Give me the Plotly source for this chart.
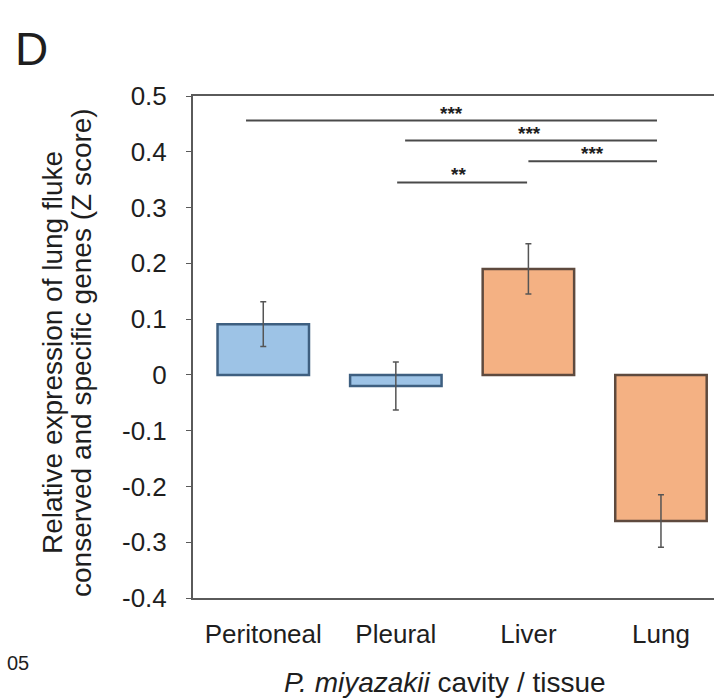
import plotly.graph_objects as go

categories = ["Peritoneal", "Pleural", "Liver", "Lung"]
values = [0.091, -0.020, 0.190, -0.262]
errors = [0.040, 0.043, 0.045, 0.047]
fill_colors = ["#9DC3E6", "#9DC3E6", "#F4B183", "#F4B183"]
line_colors = ["#3E5F80", "#3E5F80", "#5E4A3E", "#5E4A3E"]

# significance comparisons: (x start, x end, y level, label, label x)
sig_x0 = [-0.13, 1.07, 2.00, 1.01]
sig_x1 = [2.97, 2.97, 2.97, 1.99]
sig_y = [0.456, 0.420, 0.383, 0.345]
sig_label = ["***", "***", "***", "**"]
sig_label_x = [1.42, 2.01, 2.48, 1.47]

y_ticks = [0.5, 0.4, 0.3, 0.2, 0.1, 0, -0.1, -0.2, -0.3, -0.4]
y_tick_text = ["0.5", "0.4", "0.3", "0.2", "0.1", "0", "-0.1", "-0.2", "-0.3", "-0.4"]

FONT = "Liberation Sans, Arial, sans-serif"
AX = "#5a5a5a"
TXT = "#1e1e1e"
FS = 26

fig = go.Figure()
fig.add_trace(go.Bar(
    x=list(range(len(categories))), y=values,
    width=0.69,
    marker=dict(color=fill_colors, line=dict(color=line_colors, width=2.5)),
    error_y=dict(type="data", array=errors, visible=True, color="#555555", thickness=1.5, width=3),
    showlegend=False,
))

for x0, x1, y, lab, lx in zip(sig_x0, sig_x1, sig_y, sig_label, sig_label_x):
    fig.add_shape(type="line", x0=x0, x1=x1, y0=y, y1=y, xref="x", yref="y",
                  line=dict(color="#4a4a4a", width=2))
    fig.add_annotation(x=lx, y=y, xref="x", yref="y", text="<b>" + lab + "</b>",
                       showarrow=False, yanchor="bottom", yshift=-5,
                       font=dict(family=FONT, size=19, color=TXT))

W, H = 714, 698
L, R, T, B = 193, 0, 96, 100
pw = W - L - R
ph = H - T - B

def px_x(px):
    return (px - L) / pw

def px_y(py):
    return (H - B - py) / ph

fig.add_annotation(x=px_x(52), y=px_y(353), xref="paper", yref="paper",
                   text="Relative expression of lung fluke", textangle=-90,
                   showarrow=False, xanchor="center", yanchor="middle",
                   font=dict(family=FONT, size=28, color=TXT))
fig.add_annotation(x=px_x(81), y=px_y(353), xref="paper", yref="paper",
                   text="conserved and specific genes (Z score)", textangle=-90,
                   showarrow=False, xanchor="center", yanchor="middle",
                   font=dict(family=FONT, size=28, color=TXT))
fig.add_annotation(x=px_x(445), y=px_y(682), xref="paper", yref="paper",
                   text="<i>P. miyazakii</i> cavity / tissue",
                   showarrow=False, xanchor="center", yanchor="middle",
                   font=dict(family=FONT, size=28, color=TXT))
fig.add_annotation(x=px_x(31), y=px_y(49), xref="paper", yref="paper",
                   text="D", showarrow=False, xanchor="center", yanchor="middle",
                   font=dict(family=FONT, size=46, color=TXT))
fig.add_annotation(x=px_x(18), y=px_y(663), xref="paper", yref="paper",
                   text="05", showarrow=False, xanchor="center", yanchor="middle",
                   font=dict(family=FONT, size=20, color=TXT))

fig.update_layout(
    width=W, height=H,
    margin=dict(l=L, r=R, t=T, b=B),
    paper_bgcolor="white", plot_bgcolor="white",
    xaxis=dict(
        range=[-0.53, 3.40],
        tickmode="array", tickvals=list(range(len(categories))), ticktext=categories,
        showgrid=False, zeroline=False,
        showline=True, linecolor=AX, linewidth=2, mirror=True,
        ticks="", ticklabelstandoff=12,
        tickfont=dict(family=FONT, size=FS, color=TXT),
    ),
    yaxis=dict(
        range=[-0.4, 0.5],
        tickmode="array", tickvals=y_ticks, ticktext=y_tick_text,
        showgrid=False, zeroline=False,
        showline=True, linecolor=AX, linewidth=2, mirror=False,
        ticks="outside", ticklen=5, tickcolor=AX, tickwidth=1,
        ticklabelstandoff=14,
        tickfont=dict(family=FONT, size=FS, color=TXT),
    ),
)

fig.write_html("out.html")
